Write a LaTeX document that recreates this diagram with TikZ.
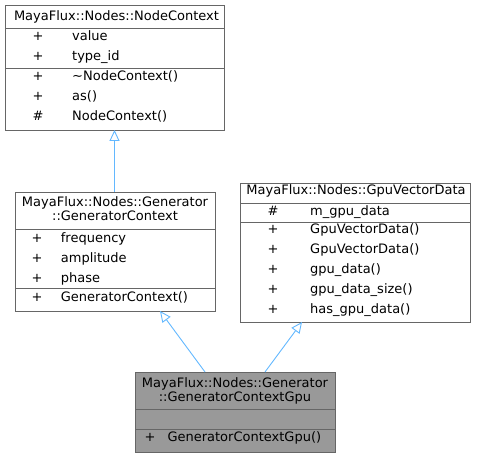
\documentclass[tikz,border=0pt]{standalone}
\usepackage{fontspec}
\setmainfont{DejaVu Sans}
\usetikzlibrary{arrows.meta,calc}
\definecolor{bordergray}{HTML}{666666}
\definecolor{fillgray}{HTML}{999999}
\definecolor{inhblue}{HTML}{63B8FF}
\begin{document}
\begin{tikzpicture}[x=1pt,y=-1pt,
  box/.style={draw=bordergray,line width=0.9pt,fill=white,inner sep=0pt,outer sep=0pt},
  grayfill/.style={fill=fillgray},
  sep/.style={draw=bordergray,line width=0.9pt},
  txt/.style={inner sep=0pt,font=\fontsize{13}{15}\selectfont},
  ttl/.style={txt,anchor=base},
  vis/.style={txt,anchor=base},
  nm/.style={txt,anchor=base west},
  inh/.style={draw=inhblue,line width=0.9pt,-{Triangle[open,length=11pt,width=10pt,fill=white]}}
]
\useasboundingbox (0,0) rectangle (479,457);
% Box 1
\node[box,minimum width=219pt,minimum height=125pt,anchor=north west] (nc) at (5,5) {};
\draw[sep] (5,28) -- (224,28);
\draw[sep] (5,68.5) -- (224,68.5);
\node[ttl] (nct) at (116.5,20.7) {MayaFlux::Nodes::NodeContext};
\node[vis] (nc1v) at (38,40.3) {+};
\node[nm] (nc1) at (72,40.3) {value};
\node[vis] (nc2v) at (38,60.3) {+};
\node[nm] (nc2) at (72,60.3) {type\_id};
\node[vis] (nc3v) at (38,80.7) {+};
\node[nm] (nc3) at (72,80.7) {\char"223C NodeContext()};
\node[vis] (nc4v) at (38,100.7) {+};
\node[nm] (nc4) at (72,100.7) {as()};
\node[vis] (nc5v) at (38,120.7) {\#};
\node[nm] (nc5) at (72,120.7) {NodeContext()};
% Box 2
\node[box,minimum width=200pt,minimum height=119pt,anchor=north west] (gc) at (15,192) {};
\draw[sep] (15,229) -- (215,229);
\draw[sep] (15,288.5) -- (215,288.5);
\node[ttl] (gct1) at (115,206.7) {MayaFlux::Nodes::Generator};
\node[ttl] (gct2) at (115,220.7) {::GeneratorContext};
\node[vis] (gc1v) at (37,242) {+};
\node[nm] (gc1) at (60.7,242) {frequency};
\node[vis] (gc2v) at (37,262) {+};
\node[nm] (gc2) at (60.7,262) {amplitude};
\node[vis] (gc3v) at (37,282) {+};
\node[nm] (gc3) at (60.7,282) {phase};
\node[vis] (gc4v) at (37,301) {+};
\node[nm] (gc4) at (60.7,301) {GeneratorContext()};
% Box 3
\node[box,minimum width=230pt,minimum height=139pt,anchor=north west] (gv) at (240,183) {};
\draw[sep] (240,203) -- (470,203);
\draw[sep] (240,222) -- (470,222);
\node[ttl] (gvt) at (356,194.3) {MayaFlux::Nodes::GpuVectorData};
\node[vis] (gv1v) at (273,215) {\#};
\node[nm] (gv1) at (310,215) {m\_gpu\_data};
\node[vis] (gv2v) at (273,233.5) {+};
\node[nm] (gv2) at (310,233.5) {GpuVectorData()};
\node[vis] (gv3v) at (273,253.5) {+};
\node[nm] (gv3) at (310,253.5) {GpuVectorData()};
\node[vis] (gv4v) at (273,273.5) {+};
\node[nm] (gv4) at (310,273.5) {gpu\_data()};
\node[vis] (gv5v) at (273,293.5) {+};
\node[nm] (gv5) at (310,293.5) {gpu\_data\_size()};
\node[vis] (gv6v) at (273,313.5) {+};
\node[nm] (gv6) at (310,313.5) {has\_gpu\_data()};
% Box 4
\node[box,grayfill,minimum width=200pt,minimum height=80pt,anchor=north west] (gg) at (135,372) {};
\draw[sep] (135,409) -- (335,409);
\draw[sep] (135,429) -- (335,429);
\node[ttl] (ggt1) at (235,387.3) {MayaFlux::Nodes::Generator};
\node[ttl] (ggt2) at (235,401.7) {::GeneratorContextGpu};
\node[vis] (gg1v) at (150,441.7) {+};
\node[nm] (gg1) at (167.3,441.7) {GeneratorContextGpu()};
% Inheritance
\draw[inh] (gc.north -| nc.south) -- (nc.south);
\draw[inh] ($(gg.north west)+(70,0)$) -- ($(gc.south west)+(145,0)$);
\draw[inh] ($(gg.north west)+(130,0)$) -- ($(gv.south west)+(62,0)$);
\end{tikzpicture}
\end{document}
